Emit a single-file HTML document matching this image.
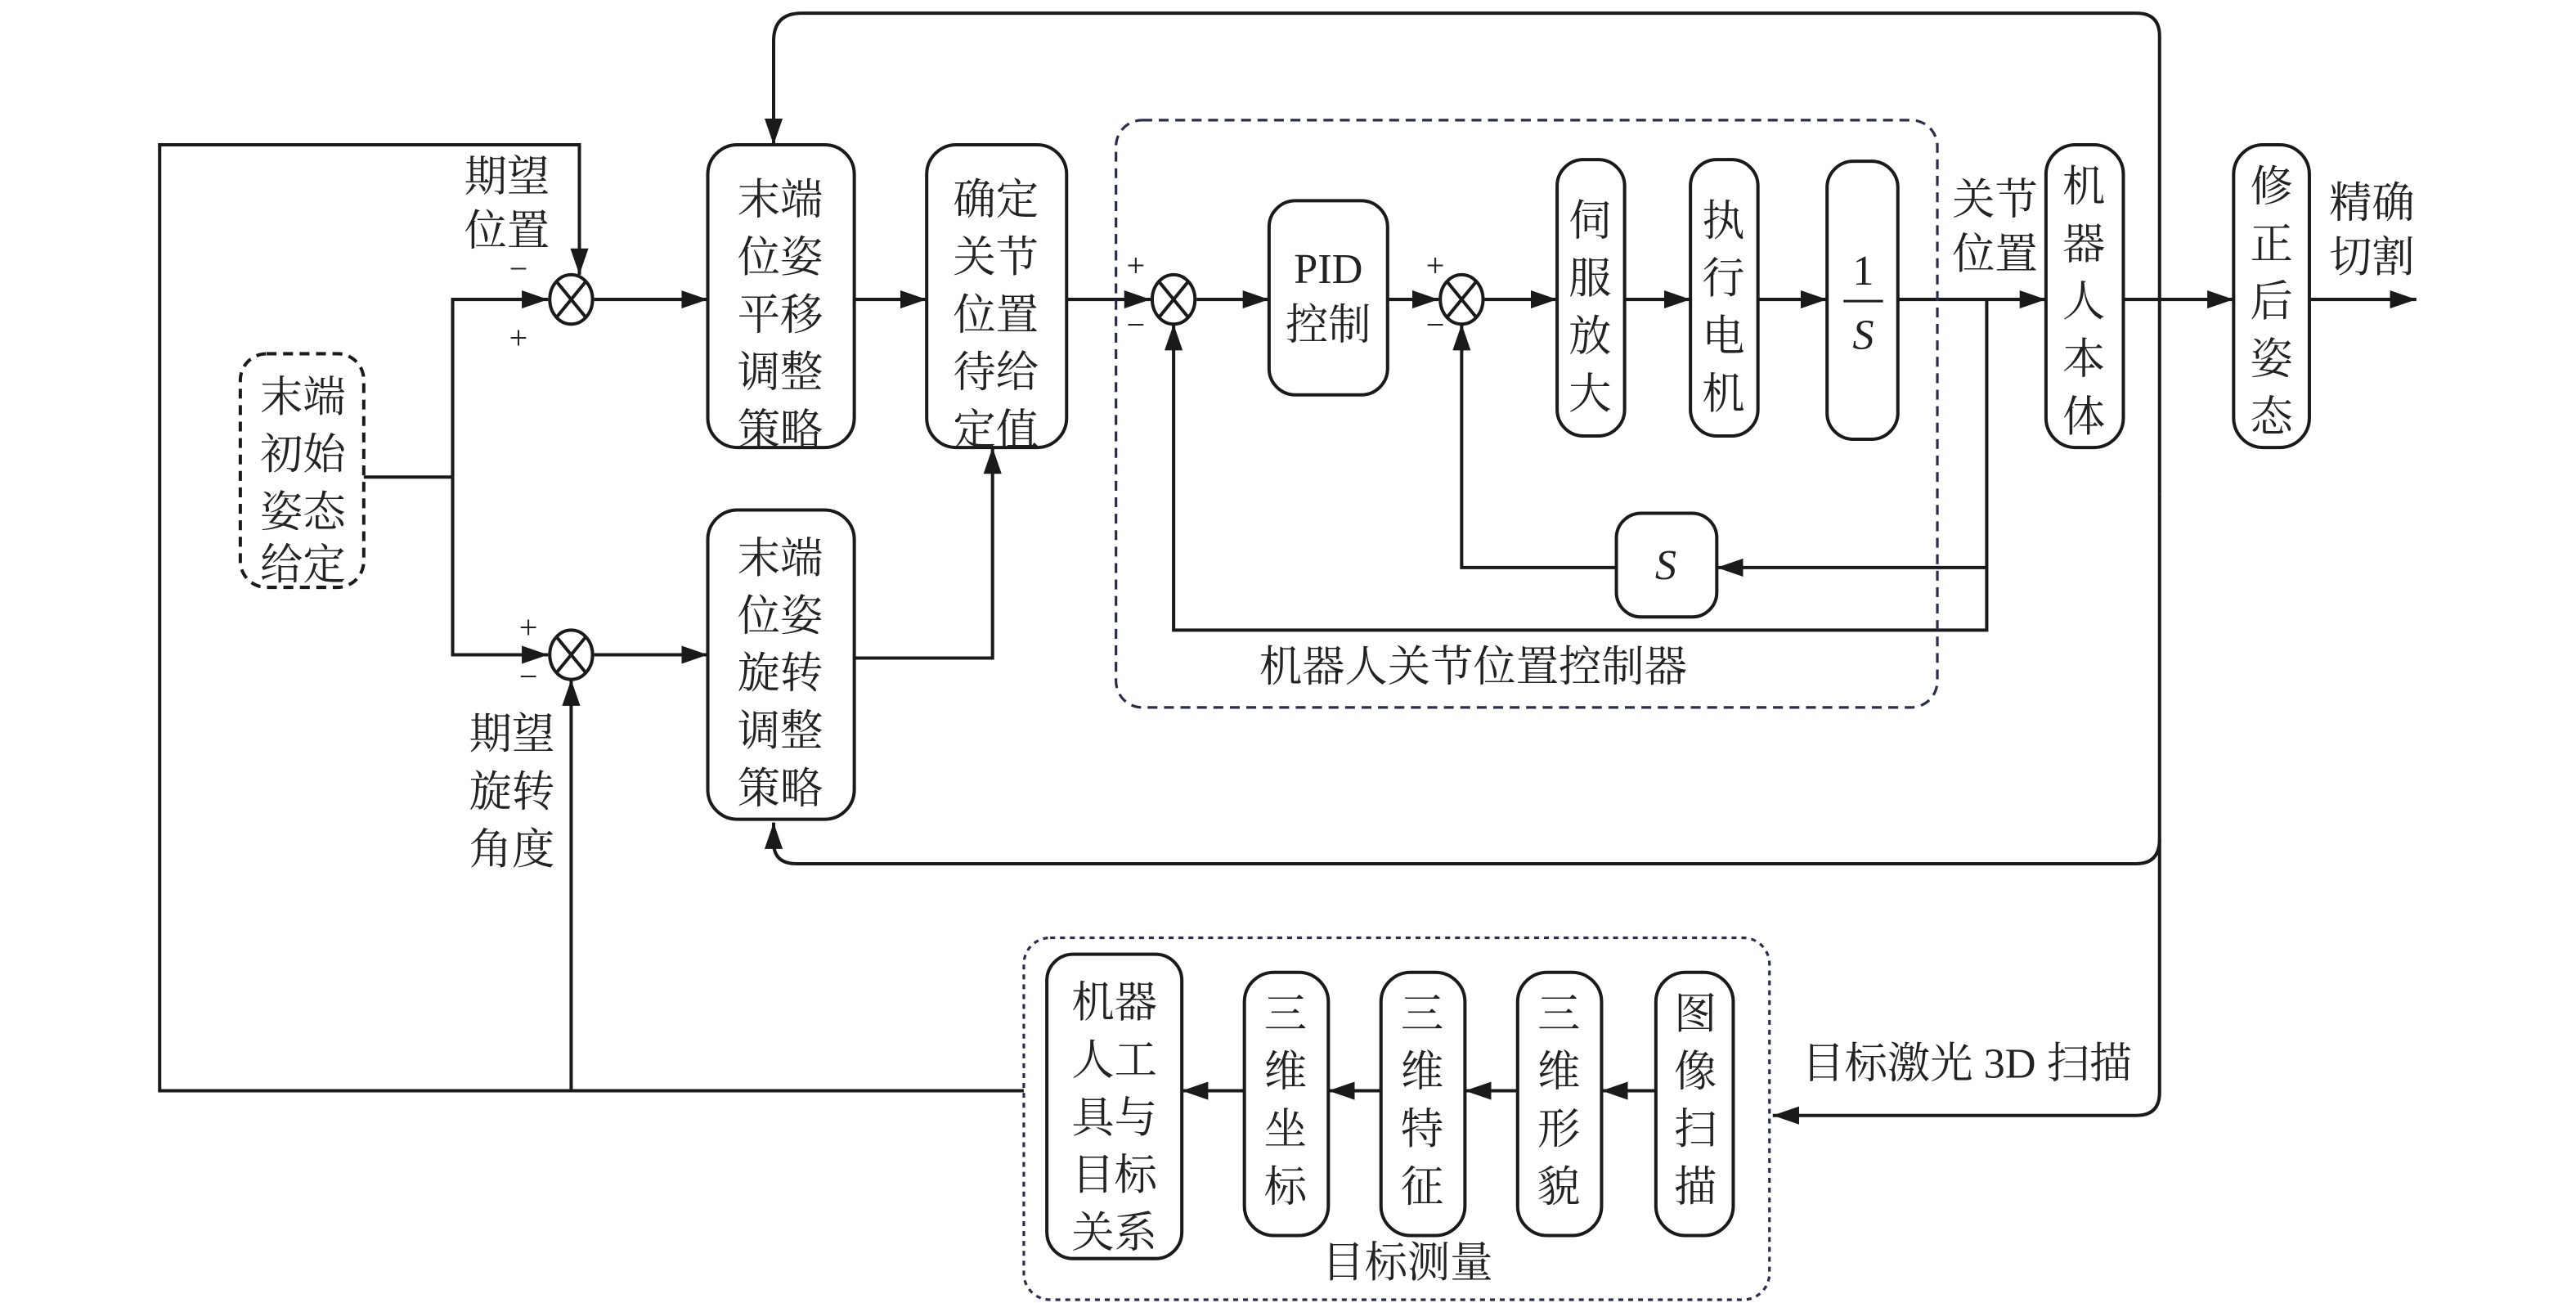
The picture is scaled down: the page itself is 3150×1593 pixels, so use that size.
<!DOCTYPE html>
<html><head><meta charset="utf-8"><style>html,body{margin:0;padding:0;background:#fff}svg{display:block}</style></head>
<body>
<svg width="3150" height="1593" viewBox="0 0 1565 792" preserveAspectRatio="none" xmlns="http://www.w3.org/2000/svg" font-family="'Liberation Serif','Noto Serif CJK SC','Noto Sans CJK SC',serif" font-size="26" fill="#222">
<defs>
<marker id="a" viewBox="0 0 16 11" refX="16" refY="5.5" markerWidth="16" markerHeight="11" markerUnits="userSpaceOnUse" orient="auto"><path d="M0,0L16,5.5L0,11z" fill="#1a1a1a"/></marker>
</defs>
<g stroke="#1a1a1a" stroke-width="2" fill="none">
<!-- top loop -->
<path d="M1312,300 V22 Q1312,8 1298,8 H487 Q470,8 470,25 V88" marker-end="url(#a)"/>
<path d="M1312,300 V664 Q1312,678 1298,678 H1077" marker-end="url(#a)"/>
<path d="M1312,510 Q1312,525 1298,525 H484 Q470,525 470,512 V500" marker-end="url(#a)"/>
<!-- left loop -->
<path d="M622,663 H97 V88 H352 V167" marker-end="url(#a)"/>
<path d="M347,663 V413" marker-end="url(#a)"/>
<path d="M221,290 H275"/>
<path d="M275,290 V182 H333" marker-end="url(#a)"/>
<path d="M275,290 V398 H333" marker-end="url(#a)"/>
<path d="M361,182 H430" marker-end="url(#a)"/>
<path d="M361,398 H430" marker-end="url(#a)"/>
<path d="M519,182 H563" marker-end="url(#a)"/>
<path d="M519,400 H603 V272" marker-end="url(#a)"/>
<path d="M648,182 H699" marker-end="url(#a)"/>
<path d="M727,182 H771" marker-end="url(#a)"/>
<path d="M843,182 H874" marker-end="url(#a)"/>
<path d="M902,182 H946" marker-end="url(#a)"/>
<path d="M987,182 H1027" marker-end="url(#a)"/>
<path d="M1068,182 H1110" marker-end="url(#a)"/>
<path d="M1153,182 H1243" marker-end="url(#a)"/>
<path d="M1290,182 H1357" marker-end="url(#a)"/>
<path d="M1403,182 H1468" marker-end="url(#a)"/>
<path d="M1207,182 V383 H713 V197" marker-end="url(#a)"/>
<path d="M1207,345 H1043" marker-end="url(#a)"/>
<path d="M982,345 H888 V197" marker-end="url(#a)"/>
<path d="M756,663 H718" marker-end="url(#a)"/>
<path d="M839,663 H807" marker-end="url(#a)"/>
<path d="M922,663 H890" marker-end="url(#a)"/>
<path d="M1006,663 H973" marker-end="url(#a)"/>
<!-- sums -->
<g fill="#fff">
<ellipse cx="347" cy="182" rx="13" ry="15"/><ellipse cx="347" cy="398" rx="13" ry="15"/>
<ellipse cx="713" cy="182" rx="13" ry="15"/><ellipse cx="888" cy="182" rx="13" ry="15"/>
</g>
<path d="M338,171L356,193M356,171L338,193M338,387L356,409M356,387L338,409M704,171L722,193M722,171L704,193M879,171L897,193M897,171L879,193"/>
<!-- boxes -->
<rect x="430" y="88" width="89" height="184" rx="18"/>
<rect x="430" y="310" width="89" height="188" rx="18"/>
<rect x="563" y="88" width="85" height="184" rx="18"/>
<rect x="771" y="122" width="72" height="118" rx="16"/>
<rect x="946" y="97" width="41" height="168" rx="16"/>
<rect x="1027" y="97" width="41" height="168" rx="16"/>
<rect x="1110" y="98" width="43" height="169" rx="16"/>
<rect x="982" y="312" width="61" height="63" rx="15"/>
<rect x="1243" y="88" width="47" height="184" rx="18"/>
<rect x="1357" y="88" width="46" height="184" rx="18"/>
<rect x="636" y="580" width="82" height="185" rx="16"/>
<rect x="756" y="591" width="51" height="160" rx="18"/>
<rect x="839" y="591" width="51" height="160" rx="18"/>
<rect x="922" y="591" width="51" height="160" rx="18"/>
<rect x="1006" y="591" width="47" height="160" rx="18"/>
<path d="M1120,183H1144" stroke-width="1.5"/>
</g>
<g stroke="#1a1a1a" stroke-width="2" fill="none" stroke-dasharray="6,4">
<rect x="146" y="215" width="75" height="142" rx="16"/>
<rect x="678" y="73" width="499" height="357" rx="16" stroke="#2a2d50" stroke-width="1.6"/>
<rect x="622" y="570" width="453" height="220" rx="16" stroke="#2a2d50" stroke-width="1.6" stroke-dasharray="3,3"/>
</g>
<g text-anchor="middle">
<text x="184" y="250">末端</text><text x="184" y="285">初始</text><text x="184" y="320">姿态</text><text x="184" y="352">给定</text>
<text x="474" y="130">末端</text><text x="474" y="165">位姿</text><text x="474" y="200">平移</text><text x="474" y="235">调整</text><text x="474" y="270">策略</text>
<text x="474" y="348">末端</text><text x="474" y="383">位姿</text><text x="474" y="418">旋转</text><text x="474" y="453">调整</text><text x="474" y="488">策略</text>
<text x="605" y="130">确定</text><text x="605" y="165">关节</text><text x="605" y="200">位置</text><text x="605" y="235">待给</text><text x="605" y="270">定值</text>
<text x="807" y="172">PID</text><text x="807" y="206">控制</text>
<text x="966" y="143">伺</text><text x="966" y="178">服</text><text x="966" y="213">放</text><text x="966" y="248">大</text>
<text x="1047" y="143">执</text><text x="1047" y="178">行</text><text x="1047" y="213">电</text><text x="1047" y="248">机</text>
<text x="1132" y="173">1</text><text x="1132" y="212" font-style="italic">S</text>
<text x="1012" y="352" font-style="italic">S</text>
<text x="1266" y="122">机</text><text x="1266" y="157">器</text><text x="1266" y="192">人</text><text x="1266" y="227">本</text><text x="1266" y="262">体</text>
<text x="1380" y="122">修</text><text x="1380" y="157">正</text><text x="1380" y="192">后</text><text x="1380" y="227">姿</text><text x="1380" y="262">态</text>
<text x="677" y="618">机器</text><text x="677" y="653">人工</text><text x="677" y="688">具与</text><text x="677" y="723">目标</text><text x="677" y="758">关系</text>
<text x="781" y="625">三</text><text x="781" y="660">维</text><text x="781" y="695">坐</text><text x="781" y="730">标</text>
<text x="864" y="625">三</text><text x="864" y="660">维</text><text x="864" y="695">特</text><text x="864" y="730">征</text>
<text x="947" y="625">三</text><text x="947" y="660">维</text><text x="947" y="695">形</text><text x="947" y="730">貌</text>
<text x="1030" y="625">图</text><text x="1030" y="660">像</text><text x="1030" y="695">扫</text><text x="1030" y="730">描</text>
<text x="308" y="116">期望</text><text x="308" y="149">位置</text>
<text x="311" y="455">期望</text><text x="311" y="490">旋转</text><text x="311" y="525">角度</text>
<text x="1212" y="130">关节</text><text x="1212" y="163">位置</text>
<text x="1441" y="132">精确</text><text x="1441" y="165">切割</text>
<text x="895" y="414">机器人关节位置控制器</text>
<text x="855" y="776">目标测量</text>
<text x="1195" y="655">目标激光 3D 扫描</text>
</g>
<g font-size="20" text-anchor="middle">
<text x="315" y="170">−</text><text x="315" y="212">+</text>
<text x="321" y="388">+</text><text x="321" y="418">−</text>
<text x="690" y="168">+</text><text x="690" y="204">−</text>
<text x="872" y="168">+</text><text x="872" y="204">−</text>
</g>
</svg>
</body></html>
